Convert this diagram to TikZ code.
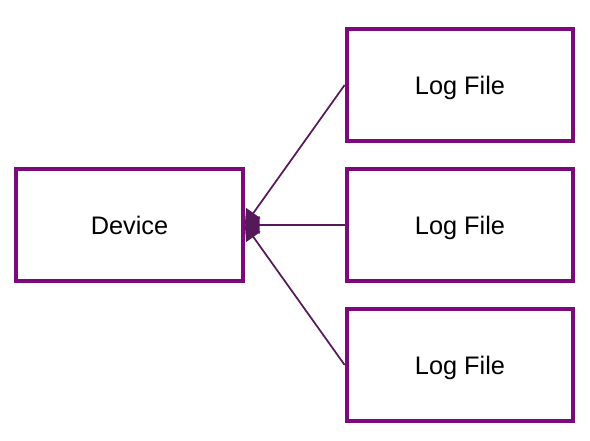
\documentclass[tikz,border=0pt]{standalone}
\usepackage{fontspec}
\setmainfont{Liberation Sans}
\usepackage{xcolor}
\usetikzlibrary{arrows.meta}
\definecolor{boxline}{RGB}{124,10,124}
\definecolor{linkline}{RGB}{85,25,90}

\begin{document}
\begin{tikzpicture}[x=0.75pt,y=-0.75pt,
  entity/.style={draw=boxline,line width=3pt,fill=white,minimum width=170pt,minimum height=84pt,inner sep=0pt,text height=14pt,text depth=0pt,font=\fontsize{19}{22}\selectfont},
  link/.style={draw=linkline,line width=1.3pt,-{Triangle[length=11pt,width=13pt]}}]
\useasboundingbox (0,0) rectangle (590,441);
\node[entity] (device) at (129.5,225) {Device};
\node[entity] (log1) at (460,85) {Log File};
\node[entity] (log2) at (460,225) {Log File};
\node[entity] (log3) at (460,365) {Log File};
\draw[link] (log1.west) -- (device.east);
\draw[link] (log2.west) -- (device.east);
\draw[link] (log3.west) -- (device.east);
\end{tikzpicture}
\end{document}
